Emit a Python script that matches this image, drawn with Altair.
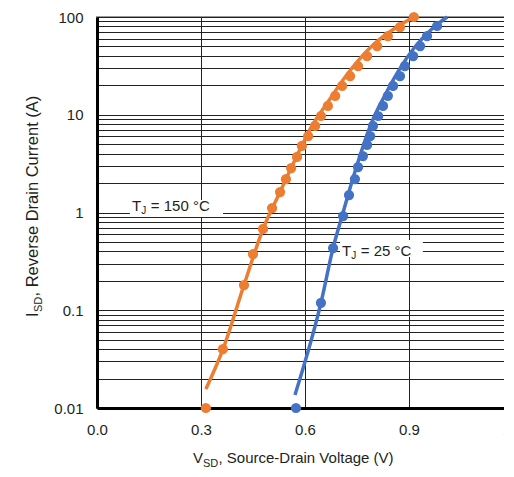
import altair as alt
import pandas as pd

FONT = "Liberation Sans"
ORANGE = "#ED7D31"
BLUE = "#4472C4"
INK = "#231F20"

# ---- measured points (V_SD in V, I_SD in A) ----
v150 = [0.314, 0.363, 0.424, 0.450, 0.479, 0.505, 0.528, 0.545, 0.560, 0.577, 0.591, 0.609,
        0.629, 0.646, 0.666, 0.687, 0.707, 0.730, 0.753, 0.779, 0.808, 0.839, 0.874, 0.914]
i150 = [0.01, 0.040, 0.181, 0.376, 0.678, 1.11, 1.62, 2.20, 2.85, 3.70, 4.79, 6.06,
        7.68, 9.71, 12.3, 15.6, 19.7, 24.9, 31.5, 39.9, 50.5, 63.9, 79.0, 100]

v25 = [0.574, 0.646, 0.681, 0.710, 0.727, 0.744, 0.753, 0.767, 0.779, 0.788, 0.796,
       0.811, 0.825, 0.839, 0.854, 0.874, 0.888, 0.912, 0.932, 0.952, 0.981]
i25 = [0.01, 0.119, 0.433, 0.92, 1.51, 2.20, 2.92, 3.78, 4.91, 6.06, 7.68,
       9.71, 12.3, 15.6, 19.7, 24.9, 31.5, 39.9, 50.5, 63.9, 80.9]

# ---- fitted curves ----
fit150_v = [0.314, 0.3635, 0.424, 0.479, 0.528, 0.571, 0.620, 0.666, 0.718, 0.793, 0.865, 0.914]
fit150_i = [0.0156, 0.040, 0.181, 0.678, 1.62, 3.44, 7.68, 13.5, 24.9, 50.5, 79.0, 100]
fit25_v = [0.571, 0.646, 0.681, 0.707, 0.736, 0.764, 0.793, 0.831, 0.868, 0.917, 0.966, 1.010]
fit25_i = [0.0136, 0.119, 0.433, 0.92, 2.10, 4.36, 8.43, 15.9, 27.4, 49.3, 75.4, 100]

# ---- axes ----
x_ticks = [0.0, 0.3, 0.6, 0.9, 1.2]
y_major = [0.01, 0.1, 1, 10, 100]
y_grid = [m * d for d in [0.01, 0.1, 1, 10] for m in range(1, 10)] + [100]
y_grid = [round(v, 4) for v in y_grid]

# ---- annotations ----
label150 = {"v": 0.101, "i": 1.036, "box": (0.095, 0.3635, 1.343, 0.90), "rest": "= 150 °C"}
label25 = {"v": 0.7067, "i": 0.359, "box": (0.701, 0.940, 0.524, 0.351), "rest": "= 25 °C"}

dots = pd.DataFrame({
    "v": v150 + v25,
    "i": i150 + i25,
    "s": ["150"] * len(v150) + ["25"] * len(v25),
})
fits = pd.DataFrame({
    "v": fit150_v + fit25_v,
    "i": fit150_i + fit25_i,
    "s": ["150"] * len(fit150_v) + ["25"] * len(fit25_v),
})
boxes = pd.DataFrame({
    "x1": [label150["box"][0], label25["box"][0]],
    "x2": [label150["box"][1], label25["box"][1]],
    "y1": [label150["box"][2], label25["box"][2]],
    "y2": [label150["box"][3], label25["box"][3]],
})

xs = alt.Scale(domain=[0, 1.2], nice=False, zero=False)
ys = alt.Scale(type="log", domain=[0.01, 100], nice=False)
cs = alt.Scale(domain=["150", "25"], range=[ORANGE, BLUE])

x_axis = alt.Axis(values=x_ticks, format=".1f", title=None, grid=True, ticks=False,
                  labelPadding=14, labelFontSize=15, labelFont=FONT, labelColor=INK,
                  domainColor="black", domainWidth=3, gridColor="#222", gridWidth=1,
                  labelFlush=False)
y_expr = "indexof([0.01,0.1,1,10,100], datum.value) >= 0 ? format(datum.value, '~g') : ''"
y_axis = alt.Axis(values=y_grid, labelExpr=y_expr, title=None, grid=True, ticks=False,
                  labelPadding=14, labelFontSize=15, labelFont=FONT, labelColor=INK,
                  domainColor="black", domainWidth=3, gridColor="#222", gridWidth=1,
                  labelFlush=False, labelOverlap=False)

base_x = alt.X("v:Q", scale=xs, axis=x_axis)
base_y = alt.Y("i:Q", scale=ys, axis=y_axis)

fit_layer = alt.Chart(fits).mark_line(strokeWidth=3.5, interpolate="monotone").encode(
    x=base_x, y=base_y, color=alt.Color("s:N", scale=cs, legend=None), detail="s:N")
dot_layer = alt.Chart(dots).mark_circle(size=105, opacity=1).encode(
    x=alt.X("v:Q", scale=xs), y=alt.Y("i:Q", scale=ys),
    color=alt.Color("s:N", scale=cs, legend=None))
box_layer = alt.Chart(boxes).mark_rect(fill="white", stroke=None).encode(
    x=alt.X("x1:Q", scale=xs), x2="x2:Q", y=alt.Y("y1:Q", scale=ys), y2="y2:Q")


def label_layers(lab):
    d = pd.DataFrame({"v": [lab["v"]], "i": [lab["i"]]})
    enc = dict(x=alt.X("v:Q", scale=xs), y=alt.Y("i:Q", scale=ys))
    t = alt.Chart(d).mark_text(align="left", baseline="alphabetic", font=FONT,
                               fontSize=15, color=INK, text="T").encode(**enc)
    j = alt.Chart(d).mark_text(align="left", baseline="alphabetic", font=FONT,
                               fontSize=10, color=INK, dx=9.3, dy=3, text="J").encode(**enc)
    r = alt.Chart(d).mark_text(align="left", baseline="alphabetic", font=FONT,
                               fontSize=15, color=INK, dx=18.8, text=lab["rest"]).encode(**enc)
    return [t, j, r]


one = pd.DataFrame({"k": [0]})


def title_piece(text, x, y, size, angle=0):
    kw = dict(align="left", baseline="alphabetic", font=FONT, fontSize=size,
              color=INK, text=text)
    if angle:
        kw["angle"] = angle
    return alt.Chart(one).mark_text(**kw).encode(x=alt.value(x), y=alt.value(y))


titles = [
    title_piece("V", 96, 446, 15),
    title_piece("SD", 106, 449.5, 11),
    title_piece(", Source-Drain Voltage (V)", 121.5, 446, 15),
    title_piece("I", -59, 300, 16.5, 270),
    title_piece("SD", -55.5, 295, 11, 270),
    title_piece(", Reverse Drain Current (A)", -59, 279.5, 16.5, 270),
]

chart = alt.layer(
    box_layer, fit_layer, dot_layer,
    *label_layers(label150), *label_layers(label25),
    *titles,
).properties(
    width=416, height=391,
    autosize=alt.AutoSizeParams(type="none"),
    padding={"left": 89, "top": 9, "right": -9, "bottom": 60},
).configure_view(stroke="#999", strokeWidth=2)

chart.save("out.html", embed_options={"renderer": "svg", "actions": False})
